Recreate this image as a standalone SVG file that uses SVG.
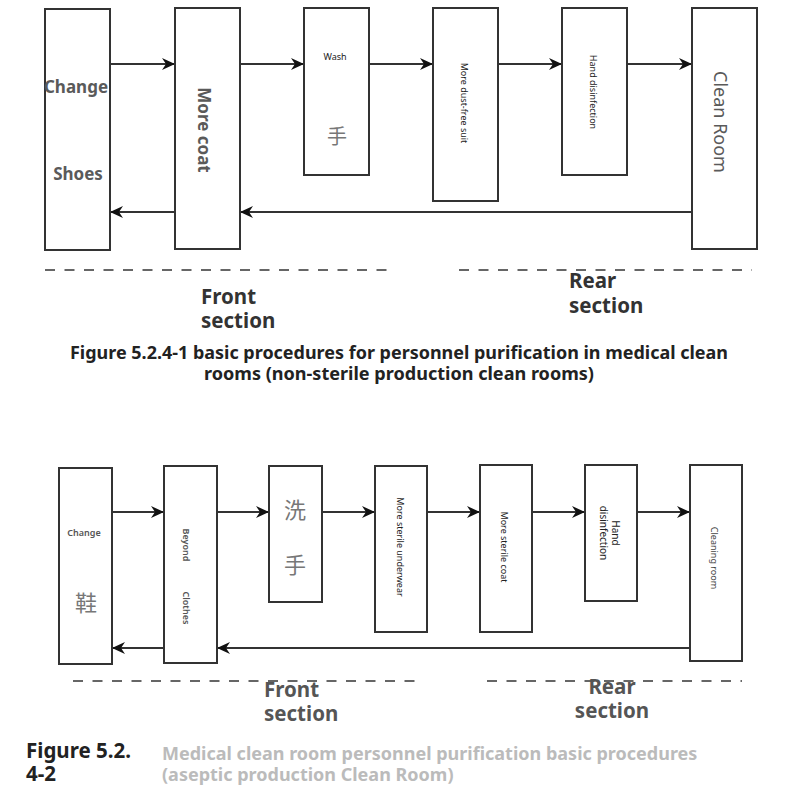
<svg xmlns="http://www.w3.org/2000/svg" width="800" height="787" viewBox="0 0 800 787">
<style>
.box{fill:#fff;stroke:#333;stroke-width:2}
.ln{fill:none;stroke:#333;stroke-width:2}
.dash{fill:none;stroke:#666;stroke-width:2;stroke-dasharray:10 9.5}
text{font-family:"Noto Sans","Open Sans","Liberation Sans",sans-serif}
.big{font-size:17px;font-weight:bold;fill:#5a5a5a}
.med{font-size:18px;fill:#5a5a5a}
.sm{font-size:9px;fill:#222}
.smg{font-size:9px;fill:#555;font-weight:600}
.cjk{font-family:"Noto Sans CJK SC","Noto Sans CJK JP",sans-serif;font-size:20px;fill:#777}
.sec{font-size:20.5px;font-weight:bold;fill:#333}
.sec2{font-size:20.5px;font-weight:bold;fill:#555}
.cap{font-size:17px;font-weight:bold;fill:#222}
.cap2{font-size:18px;font-weight:bold;fill:#bbb}
.fig{font-size:20.5px;font-weight:bold;fill:#222}
</style>
<defs>
<marker id="ah" markerUnits="userSpaceOnUse" markerWidth="14" markerHeight="12" refX="13" refY="6" orient="auto">
<path d="M0,0 L13,6 L0,12 L4,6 z" fill="#111"/>
</marker>
</defs>
<rect width="800" height="787" fill="#fff"/>

<g id="connectors">
<line class="ln" x1="110" y1="64" x2="175" y2="64" marker-end="url(#ah)"/>
<line class="ln" x1="240" y1="64" x2="304" y2="64" marker-end="url(#ah)"/>
<line class="ln" x1="369" y1="64" x2="433" y2="64" marker-end="url(#ah)"/>
<line class="ln" x1="498" y1="64" x2="562" y2="64" marker-end="url(#ah)"/>
<line class="ln" x1="627" y1="64" x2="692" y2="64" marker-end="url(#ah)"/>
<line class="ln" x1="692" y1="212" x2="240" y2="212" marker-end="url(#ah)"/>
<line class="ln" x1="175" y1="212" x2="110" y2="212" marker-end="url(#ah)"/>

<line class="ln" x1="112" y1="512" x2="164" y2="512" marker-end="url(#ah)"/>
<line class="ln" x1="217" y1="512" x2="269" y2="512" marker-end="url(#ah)"/>
<line class="ln" x1="322" y1="512" x2="375" y2="512" marker-end="url(#ah)"/>
<line class="ln" x1="427" y1="512" x2="480" y2="512" marker-end="url(#ah)"/>
<line class="ln" x1="532" y1="512" x2="585" y2="512" marker-end="url(#ah)"/>
<line class="ln" x1="637" y1="512" x2="690" y2="512" marker-end="url(#ah)"/>
<line class="ln" x1="690" y1="648" x2="217" y2="648" marker-end="url(#ah)"/>
<line class="ln" x1="164" y1="648" x2="112" y2="648" marker-end="url(#ah)"/>
</g>

<g id="t-change-shoes">
<rect class="box" x="45" y="9" width="65" height="241"/>
<text class="big" x="76" y="86" text-anchor="middle" dominant-baseline="central">Change</text>
<text class="big" x="78" y="173" text-anchor="middle" dominant-baseline="central">Shoes</text>
</g>
<g id="t-more-coat">
<rect class="box" x="175" y="8" width="65" height="241"/>
<text class="big" transform="translate(204,130) rotate(90)" text-anchor="middle" dominant-baseline="central">More coat</text>
</g>
<g id="t-wash">
<rect class="box" x="304" y="8" width="65" height="167"/>
<text class="sm" x="335" y="56" text-anchor="middle" dominant-baseline="central">Wash</text>
<text class="cjk" x="337" y="135" text-anchor="middle" dominant-baseline="central">手</text>
</g>
<g id="t-dust-free">
<rect class="box" x="433" y="8" width="65" height="193"/>
<text class="sm" transform="translate(464,103) rotate(90)" text-anchor="middle" dominant-baseline="central">More dust-free suit</text>
</g>
<g id="t-hand">
<rect class="box" x="562" y="8" width="65" height="167"/>
<text class="sm" transform="translate(593,92) rotate(90)" text-anchor="middle" dominant-baseline="central">Hand disinfection</text>
</g>
<g id="t-clean-room">
<rect class="box" x="692" y="8" width="65" height="241"/>
<text class="med" transform="translate(721,122) rotate(90)" text-anchor="middle" dominant-baseline="central">Clean Room</text>
</g>

<g id="top-sections">
<line class="dash" x1="45" y1="270" x2="395" y2="270"/>
<line class="dash" x1="459" y1="270" x2="752" y2="270"/>
<text class="sec"><tspan x="201" y="304">Front</tspan><tspan x="201" y="328">section</tspan></text>
<text class="sec"><tspan x="569" y="288">Rear</tspan><tspan x="569" y="313">section</tspan></text>
<text class="cap"><tspan x="70" y="359" textLength="658" lengthAdjust="spacingAndGlyphs">Figure 5.2.4-1 basic procedures for personnel purification in medical clean</tspan><tspan x="204" y="380" textLength="390" lengthAdjust="spacingAndGlyphs">rooms (non-sterile production clean rooms)</tspan></text>
</g>

<g id="b-change">
<rect class="box" x="59" y="468" width="53" height="196"/>
<text class="smg" x="84" y="532" text-anchor="middle" dominant-baseline="central">Change</text>
<text class="cjk" x="86" y="601" text-anchor="middle" dominant-baseline="central" style="font-size:22px">鞋</text>
</g>
<g id="b-beyond">
<rect class="box" x="164" y="466" width="53" height="197"/>
<text class="smg" transform="translate(186,545) rotate(90)" text-anchor="middle" dominant-baseline="central">Beyond</text>
<text class="smg" transform="translate(186,608) rotate(90)" text-anchor="middle" dominant-baseline="central">Clothes</text>
</g>
<g id="b-wash">
<rect class="box" x="269" y="466" width="53" height="136"/>
<text class="cjk" x="295" y="508" text-anchor="middle" dominant-baseline="central" style="font-size:22px">洗</text>
<text class="cjk" x="295" y="563" text-anchor="middle" dominant-baseline="central" style="font-size:22px">手</text>
</g>
<g id="b-underwear">
<rect class="box" x="375" y="466" width="52" height="166"/>
<text class="sm" transform="translate(400,547) rotate(90)" text-anchor="middle" dominant-baseline="central">More sterile underwear</text>
</g>
<g id="b-coat">
<rect class="box" x="480" y="465" width="52" height="167"/>
<text class="sm" transform="translate(504,547) rotate(90)" text-anchor="middle" dominant-baseline="central">More sterile coat</text>
</g>
<g id="b-hand">
<rect class="box" x="585" y="465" width="52" height="136"/>
<text class="sm" transform="translate(609,533) rotate(90)" text-anchor="middle" style="font-size:10px"><tspan x="0" y="-2.5">Hand</tspan><tspan x="0" y="9.5">disinfection</tspan></text>
</g>
<g id="b-cleaning-room">
<rect class="box" x="690" y="465" width="52" height="196"/>
<text class="sm" transform="translate(714,558) rotate(90)" text-anchor="middle" dominant-baseline="central" style="fill:#444">Cleaning room</text>
</g>

<g id="bottom-sections">
<line class="dash" x1="73" y1="681" x2="422" y2="681"/>
<line class="dash" x1="487" y1="681" x2="742" y2="681"/>
<text class="sec2"><tspan x="264" y="697">Front</tspan><tspan x="264" y="721">section</tspan></text>
<text class="sec2" text-anchor="middle"><tspan x="612" y="694">Rear</tspan><tspan x="612" y="718">section</tspan></text>
<text class="fig"><tspan x="26" y="758">Figure 5.2.</tspan><tspan x="26" y="781">4-2</tspan></text>
<text class="cap2"><tspan x="162" y="760">Medical clean room personnel purification basic procedures</tspan><tspan x="162" y="781">(aseptic production Clean Room)</tspan></text>
</g>
</svg>
